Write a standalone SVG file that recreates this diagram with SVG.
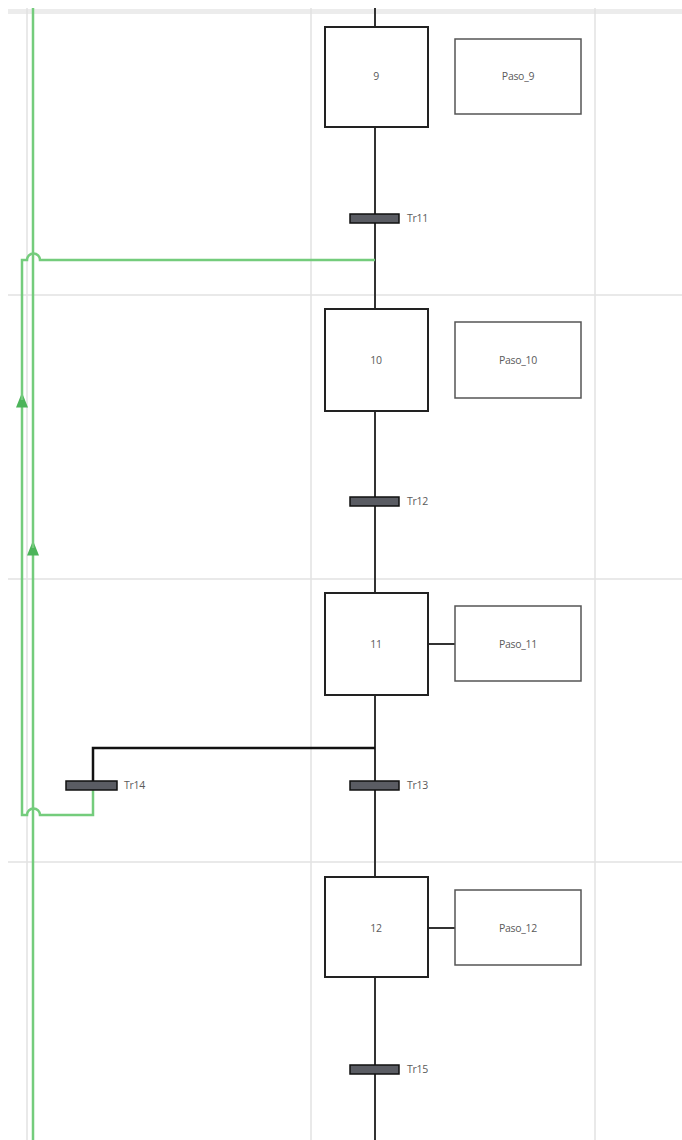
<svg xmlns="http://www.w3.org/2000/svg" width="682" height="1140" viewBox="0 0 682 1140">
<defs>
<style>
.grid{stroke:#e2e2e2;stroke-width:1.5;fill:none}
.step{fill:#fff;stroke:#222;stroke-width:2}
.act{fill:#fff;stroke:#555;stroke-width:1.5}
.bar{fill:#5a5c63;stroke:#111;stroke-width:1.5}
.wire{stroke:#333;stroke-width:2;fill:none}
.link{stroke:#111;stroke-width:2.5;fill:none}
.green{stroke:#74cc7c;stroke-width:2.5;fill:none}
text{font-family:"Open Sans","Liberation Sans",sans-serif;font-size:10.5px;fill:#5a5a5a;letter-spacing:-0.3px}
.c{text-anchor:middle}
</style>
<marker id="ar" viewBox="0 0 10 10" refX="5" refY="5" markerWidth="6" markerHeight="6" orient="auto">
<path d="M0,1 L10,5 L0,9 z" fill="#4cb45a"/>
</marker>
</defs>
<rect width="682" height="1140" fill="#fff"/>
<g id="grid">
<rect x="8" y="9" width="674" height="5" fill="#ececec"/>
<line class="grid" x1="27" y1="8" x2="27" y2="1140"/>
<line class="grid" x1="311" y1="8" x2="311" y2="1140"/>
<line class="grid" x1="595" y1="8" x2="595" y2="1140"/>
<line class="grid" x1="8" y1="295" x2="682" y2="295"/>
<line class="grid" x1="8" y1="579" x2="682" y2="579"/>
<line class="grid" x1="8" y1="862" x2="682" y2="862"/>
</g>
<g id="connectors">
<line class="wire" x1="375" y1="8" x2="375" y2="27"/>
<line class="wire" x1="375" y1="127" x2="375" y2="309"/>
<line class="wire" x1="375" y1="411" x2="375" y2="593"/>
<line class="wire" x1="375" y1="695" x2="375" y2="877"/>
<line class="wire" x1="375" y1="977" x2="375" y2="1140"/>
<line class="wire" x1="428" y1="644" x2="455" y2="644"/>
<line class="wire" x1="428" y1="928" x2="455" y2="928"/>
<polyline class="link" points="375,748 93,748 93,785"/>
<line class="green" x1="33" y1="1140" x2="33" y2="548" marker-end="url(#ar)"/>
<line class="green" x1="33" y1="548" x2="33" y2="8"/>
<path class="green" d="M93,785 V815 H40 A6,6 0 0 0 27,815 H22 V400" marker-end="url(#ar)"/>
<path class="green" d="M22,400 V260 H27 A6,6 0 0 1 40,260 H375"/>
</g>
<g id="step9"><rect class="step" x="325" y="27" width="103" height="100"/><text class="c" x="376" y="80">9</text></g>
<g id="action9"><rect class="act" x="455" y="39" width="126" height="75"/><text class="c" x="518" y="80">Paso_9</text></g>
<g id="tr11"><rect class="bar" x="350" y="214" width="49" height="9"/><text x="407" y="222">Tr11</text></g>
<g id="step10"><rect class="step" x="325" y="309" width="103" height="102"/><text class="c" x="376" y="364">10</text></g>
<g id="action10"><rect class="act" x="455" y="322" width="126" height="76"/><text class="c" x="518" y="364">Paso_10</text></g>
<g id="tr12"><rect class="bar" x="350" y="497" width="49" height="9"/><text x="407" y="505">Tr12</text></g>
<g id="step11"><rect class="step" x="325" y="593" width="103" height="102"/><text class="c" x="376" y="648">11</text></g>
<g id="action11"><rect class="act" x="455" y="606" width="126" height="75"/><text class="c" x="518" y="648">Paso_11</text></g>
<g id="tr13"><rect class="bar" x="350" y="781" width="49" height="9"/><text x="407" y="789">Tr13</text></g>
<g id="tr14"><rect class="bar" x="66" y="781" width="51" height="9"/><text x="124" y="789">Tr14</text></g>
<g id="step12"><rect class="step" x="325" y="877" width="103" height="100"/><text class="c" x="376" y="932">12</text></g>
<g id="action12"><rect class="act" x="455" y="890" width="126" height="75"/><text class="c" x="518" y="932">Paso_12</text></g>
<g id="tr15"><rect class="bar" x="350" y="1065" width="49" height="9"/><text x="407" y="1073">Tr15</text></g>
</svg>
